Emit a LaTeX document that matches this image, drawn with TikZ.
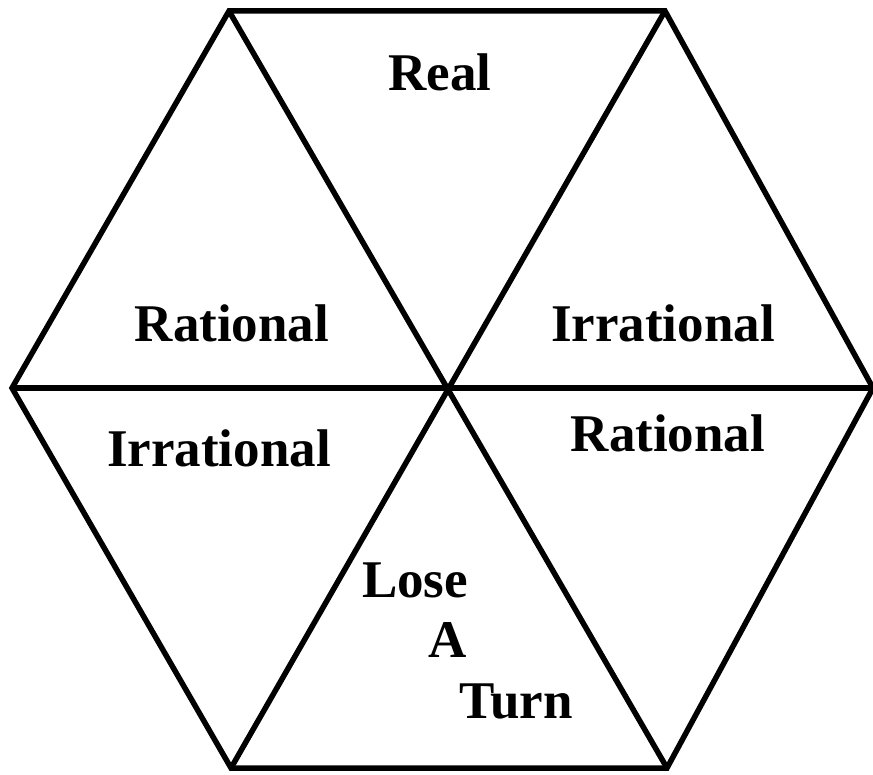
\documentclass[tikz,border=0pt]{standalone}
\usepackage{fontspec}
\setmainfont{Liberation Serif}
\tikzset{
  edge/.style={line width=5.5pt, line join=miter, black},
  lbl/.style={anchor=base, inner sep=0pt, font=\fontsize{53}{62}\selectfont\bfseries}
}
\begin{document}
\begin{tikzpicture}[x=1pt,y=-1pt]
\useasboundingbox (0,0) rectangle (873,775);
\coordinate (A) at (229,11);
\coordinate (B) at (665,11);
\coordinate (C) at (873,388);
\coordinate (D) at (667,768);
\coordinate (E) at (231,768);
\coordinate (F) at (12,388);
\coordinate (O) at (449,387);
\draw[edge] (A) -- (B) -- (C) -- (D) -- (E) -- (F) -- cycle;
\draw[edge] (A) -- (D);
\draw[edge] (B) -- (E);
\draw[edge] (F) -- (C);
\node[lbl] (real) at (440,91) {Real};
\node[lbl] (rat1) at (232,342) {Rational};
\node[lbl] (irr1) at (663,342) {Irrational};
\node[lbl] (irr2) at (219,467) {Irrational};
\node[lbl] (rat2) at (668,452) {Rational};
\node[lbl] (lose) at (415,597) {Lose};
\node[lbl] (a) at (448,657) {A};
\node[lbl] (turn) at (516,718) {Turn};
\end{tikzpicture}
\end{document}
